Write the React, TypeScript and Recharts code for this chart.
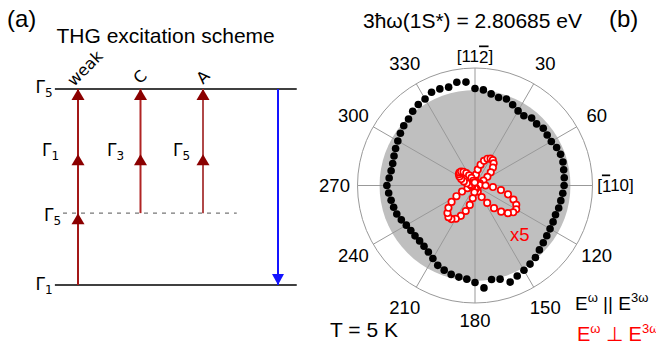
import React from "react";
import {
  ComposedChart,
  XAxis,
  YAxis,
  ReferenceLine,
  Scatter,
  RadarChart,
  PolarGrid,
  PolarAngleAxis,
  PolarRadiusAxis,
  Radar,
} from "recharts";

// ---------- (a) THG excitation scheme ----------
// energies in units of the fundamental photon (virtual level drawn a bit higher)
const groundE = 0;
const virtualE = 1.1;
const topE = 3;
const levelSpan = [0.63, 4.5];
const virtualSpan = [0.76, 3.54];

const pathNames = ["weak", "C", "A"];
const pathX = [1, 2, 3];
const pathStart = [0, 1.1, 1.1];
const pathColors = ["#a31818", "#b02424", "#b04848"];
const arrowTips = [
  { x: 1, y: 1.1 },
  { x: 1, y: 2 },
  { x: 1, y: 3 },
  { x: 2, y: 2 },
  { x: 2, y: 3 },
  { x: 3, y: 2 },
  { x: 3, y: 3 },
];
const emission = [{ x: 4.2, y: 0 }];

// ---------- (b) polar THG rotational anisotropy ----------
const angles = [
  0, 5, 10, 15, 20, 25, 30, 35, 40, 45, 50, 55, 60, 65, 70, 75, 80, 85, 90, 95,
  100, 105, 110, 115, 120, 125, 130, 135, 140, 145, 150, 155, 160, 165, 170,
  175, 180, 185, 190, 195, 200, 205, 210, 215, 220, 225, 230, 235, 240, 245,
  250, 255, 260, 265, 270, 275, 280, 285, 290, 295, 300, 305, 310, 315, 320,
  325, 330, 335, 340, 345, 350, 355,
];
// E(w) || E(3w)
const parallel = [
  99, 98, 95, 93, 94, 91, 88, 87, 90, 89, 91, 90, 90, 92, 93, 93, 92, 91.5, 91,
  90, 89, 88.5, 87.5, 88, 88.5, 89.5, 91, 93, 96, 98, 100, 102, 105, 99, 97.5,
  105, 99, 96, 95, 94, 92, 90, 86, 83, 81, 80, 80, 80, 81, 83, 85, 86, 87, 88.5,
  90, 88, 87, 87, 88, 89.5, 91, 93, 95, 96, 99, 101, 102, 105, 105, 104, 107,
  106,
];
// E(w) _|_ E(3w), multiplied by 5
const perpendicular = [
  6.2, 11.1, 16.5, 22, 26.8, 30.2, 31.8, 31.7, 29.6, 25.9, 21, 15.5, 10, 5.3,
  3.1, 3.1, 3.1, 4.7, 10.8, 18.4, 26.9, 34.9, 41.8, 46.5, 48.6, 47.7, 43.9,
  37.8, 30.2, 21.7, 13.6, 6.8, 3.1, 3.1, 3.1, 3.1, 3.1, 7, 13.2, 20.5, 27.7,
  34.2, 39.2, 41.9, 42.2, 39.8, 35.4, 29.2, 21.9, 14.6, 8.1, 3.2, 3.1, 3.1, 3.1,
  3.1, 5.2, 8.6, 12.1, 15.5, 18.3, 20.1, 20.7, 20.1, 18.3, 15.5, 12.1, 8.6, 5.2,
  3.1, 3.1, 3.1,
];
const fitLevel = 97.5;
const labelAngles = [0, 30, 60, 90, 120, 150, 180, 210, 240, 270, 300, 330];

const polarData = angles.map((a, i) => ({
  angle: a,
  par: parallel[i],
  perp: perpendicular[i],
  fit: fitLevel,
}));

const CX = 175;
const CY = 185.5;
const R = 117.5;
const SANS = "'Liberation Sans', Arial, sans-serif";
const DEJAVU = "'DejaVu Sans', sans-serif";

const UpHead = (props: any) => {
  const { cx, cy, fill } = props;
  return (
    <polygon
      points={`${cx},${cy} ${cx - 6.5},${cy + 11} ${cx + 6.5},${cy + 11}`}
      fill={fill}
    />
  );
};

const DownHead = (props: any) => {
  const { cx, cy } = props;
  return (
    <polygon
      points={`${cx},${cy} ${cx - 6},${cy - 11} ${cx + 6},${cy - 11}`}
      fill="#1414ff"
    />
  );
};

const AngleTick = (props: any) => {
  const v = Number(props.payload?.value);
  if (!labelAngles.includes(v)) return <g />;
  const rr = v === 0 ? 129 : v === 180 ? 134.5 : 140.5;
  const rad = (v * Math.PI) / 180;
  const x = CX + rr * Math.sin(rad);
  const y = CY - rr * Math.cos(rad);
  let size = 18.5;
  let content: React.ReactNode = String(v);
  if (v === 0) {
    size = 17;
    content = (
      <>
        [11<tspan style={{ textDecoration: "overline" }}>2</tspan>]
      </>
    );
  } else if (v === 90) {
    size = 17;
    content = (
      <>
        [<tspan style={{ textDecoration: "overline" }}>1</tspan>10]
      </>
    );
  }
  return (
    <text
      x={x}
      y={y}
      textAnchor="middle"
      dominantBaseline="central"
      fontSize={size}
      fontFamily={SANS}
      fill="#000"
    >
      {content}
    </text>
  );
};

const Gamma = ({ x, y, sub }: { x: number; y: number; sub: string }) => (
  <text x={x} y={y} fontSize={17} fontFamily={DEJAVU} fill="#000">
    Γ
    <tspan fontSize={12} dy={4}>
      {sub}
    </tspan>
  </text>
);

const polarProps = {
  width: 356,
  height: 350,
  data: polarData,
  cx: CX,
  cy: CY,
  outerRadius: R,
  margin: { top: 0, right: 0, bottom: 0, left: 0 },
};

export default function App() {
  return (
    <div
      style={{
        position: "fixed",
        left: 0,
        top: 0,
        width: 656,
        height: 350,
        overflow: "hidden",
        background: "#fff",
      }}
    >
      {/* (a) level scheme */}
      <div style={{ position: "absolute", left: 0, top: 0 }}>
        <ComposedChart
          width={330}
          height={350}
          data={arrowTips}
          margin={{ top: 23.67, right: 2, bottom: 65, left: 15.5 }}
        >
          <XAxis type="number" dataKey="x" domain={[0, 5]} allowDataOverflow hide />
          <YAxis type="number" dataKey="y" domain={[0, 4]} allowDataOverflow hide />
          <ReferenceLine
            segment={[
              { x: levelSpan[0], y: topE },
              { x: levelSpan[1], y: topE },
            ]}
            stroke="#000"
            strokeWidth={1.5}
          />
          <ReferenceLine
            segment={[
              { x: levelSpan[0], y: groundE },
              { x: levelSpan[1], y: groundE },
            ]}
            stroke="#000"
            strokeWidth={1.5}
          />
          <ReferenceLine
            segment={[
              { x: virtualSpan[0], y: virtualE },
              { x: virtualSpan[1], y: virtualE },
            ]}
            stroke="#777"
            strokeWidth={1.2}
            strokeDasharray="4 5"
          />
          {pathX.map((x, i) => (
            <ReferenceLine
              key={pathNames[i]}
              segment={[
                { x, y: pathStart[i] },
                { x, y: topE },
              ]}
              stroke={pathColors[i]}
              strokeWidth={2}
            />
          ))}
          <ReferenceLine
            segment={[
              { x: emission[0].x, y: topE },
              { x: emission[0].x, y: groundE },
            ]}
            stroke="#1414ff"
            strokeWidth={2}
          />
          <Scatter
            data={arrowTips}
            fill="#8b0000"
            shape={UpHead}
            isAnimationActive={false}
          />
          <Scatter
            data={emission}
            fill="#1414ff"
            shape={DownHead}
            isAnimationActive={false}
          />
        </ComposedChart>
      </div>

      {/* (b) polar plot: gray disc underneath */}
      <div style={{ position: "absolute", left: 300, top: 0 }}>
        <RadarChart {...polarProps}>
          <PolarAngleAxis dataKey="angle" tick={false} tickLine={false} axisLine={false} />
          <PolarRadiusAxis domain={[0, 120]} tick={false} axisLine={false} />
          <Radar
            dataKey="fit"
            stroke="none"
            fill="#bfbfbf"
            fillOpacity={1}
            dot={false}
            isAnimationActive={false}
          />
        </RadarChart>
      </div>

      {/* (b) polar plot: grid, labels and data on top */}
      <div style={{ position: "absolute", left: 300, top: 0 }}>
        <RadarChart {...polarProps}>
          <PolarGrid
            gridType="circle"
            polarRadius={[R]}
            polarAngles={labelAngles.map((a) => 90 - a)}
            stroke="#999"
            strokeWidth={1}
          />
          <PolarAngleAxis
            dataKey="angle"
            tick={AngleTick}
            tickLine={false}
            axisLine={false}
          />
          <PolarRadiusAxis domain={[0, 120]} tick={false} axisLine={false} />
          <Radar
            dataKey="par"
            stroke="none"
            fill="none"
            dot={{ r: 3.8, fill: "#000", stroke: "none" }}
            isAnimationActive={false}
          />
          <Radar
            dataKey="perp"
            stroke="none"
            fill="none"
            dot={{ r: 3.2, fill: "#fff", stroke: "#ff0000", strokeWidth: 1.7 }}
            isAnimationActive={false}
          />
        </RadarChart>
      </div>

      {/* text */}
      <svg
        width={656}
        height={350}
        style={{ position: "absolute", left: 0, top: 0, pointerEvents: "none" }}
        fontFamily={SANS}
      >
        <text x={7} y={26.5} fontSize={24}>
          (a)
        </text>
        <text x={56.5} y={43} fontSize={21}>
          THG excitation scheme
        </text>
        <Gamma x={35.5} y={93} sub="5" />
        <Gamma x={42} y={156} sub="1" />
        <Gamma x={107} y={156} sub="3" />
        <Gamma x={173} y={156} sub="5" />
        <Gamma x={44} y={221} sub="5" />
        <Gamma x={35.5} y={290} sub="1" />
        <text
          x={74}
          y={87}
          fontSize={16}
          fontFamily={DEJAVU}
          transform="rotate(-45 74 87)"
        >
          {pathNames[0]}
        </text>
        <text
          x={140}
          y={77}
          fontSize={16}
          fontFamily={DEJAVU}
          textAnchor="middle"
          dominantBaseline="central"
          transform="rotate(-45 140 77)"
        >
          {pathNames[1]}
        </text>
        <text
          x={203}
          y={77}
          fontSize={16}
          fontFamily={DEJAVU}
          textAnchor="middle"
          dominantBaseline="central"
          transform="rotate(-45 203 77)"
        >
          {pathNames[2]}
        </text>

        <text x={363} y={28} fontSize={21}>
          3ħω(1S*) = 2.80685 eV
        </text>
        <text x={609} y={26.5} fontSize={24}>
          (b)
        </text>
        <text x={510} y={240.5} fontSize={18.5} fill="#ff0000">
          x5
        </text>
        <text x={330} y={336.5} fontSize={21}>
          T = 5 K
        </text>
        <text x={575} y={310} fontSize={19}>
          E<tspan fontSize={13} dy={-8}>ω</tspan>
          <tspan dy={8}> || E</tspan>
          <tspan fontSize={13} dy={-8}>3ω</tspan>
        </text>
        <text x={577} y={341} fontSize={20} fill="#ff0000">
          E<tspan fontSize={13} dy={-8}>ω</tspan>
          <tspan dy={8}> ⊥ E</tspan>
          <tspan fontSize={13} dy={-8}>3ω</tspan>
        </text>
      </svg>
    </div>
  );
}
